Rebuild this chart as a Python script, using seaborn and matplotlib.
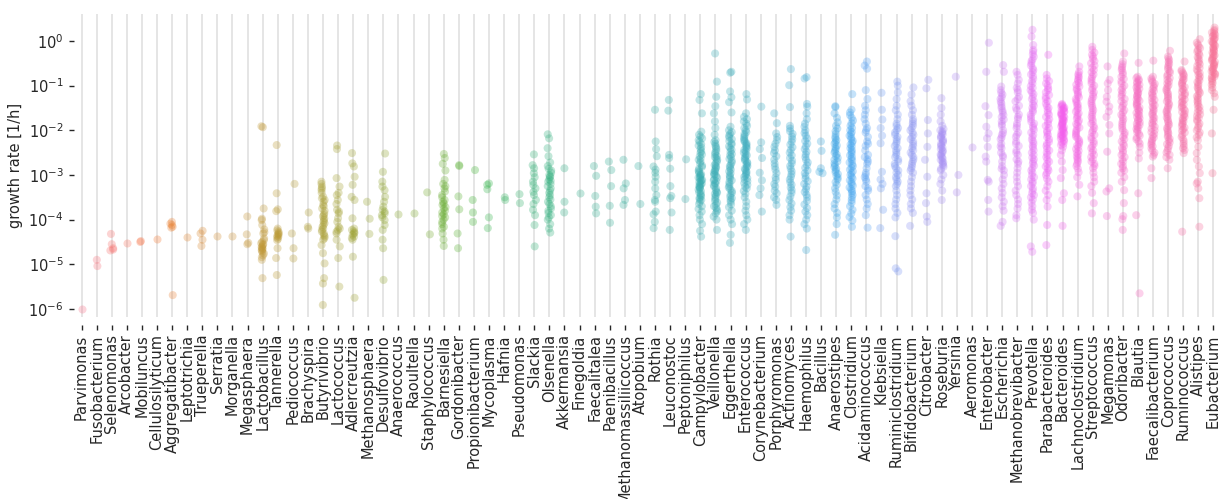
import numpy as np
import pandas as pd
import seaborn as sns
import matplotlib.pyplot as plt
from matplotlib.ticker import FixedLocator, NullLocator

sns.set_style("whitegrid")
plt.rcParams["font.family"] = ["DejaVu Sans"]

genera = [
    "Parvimonas", "Fusobacterium", "Selenomonas", "Arcobacter", "Mobiluncus",
    "Cellulosilyticum", "Aggregatibacter", "Leptotrichia", "Trueperella", "Serratia",
    "Morganella", "Megasphaera", "Lactobacillus", "Tannerella", "Pediococcus",
    "Brachyspira", "Butyrivibrio", "Lactococcus", "Adlercreutzia", "Methanosphaera",
    "Desulfovibrio", "Anaerococcus", "Raoultella", "Staphylococcus", "Barnesiella",
    "Gordonibacter", "Propionibacterium", "Mycoplasma", "Hafnia", "Pseudomonas",
    "Slackia", "Olsenella", "Akkermansia", "Finegoldia", "Faecalitalea",
    "Paenibacillus", "Methanomassiliicoccus", "Atopobium", "Rothia", "Leuconostoc",
    "Peptoniphilus", "Campylobacter", "Veillonella", "Eggerthella", "Enterococcus",
    "Corynebacterium", "Porphyromonas", "Actinomyces", "Haemophilus", "Bacillus",
    "Anaerostipes", "Clostridium", "Acidaminococcus", "Klebsiella", "Ruminiclostridium",
    "Bifidobacterium", "Citrobacter", "Roseburia", "Yersinia", "Aeromonas",
    "Enterobacter", "Escherichia", "Methanobrevibacter", "Prevotella", "Parabacteroides",
    "Bacteroides", "Lachnoclostridium", "Streptococcus", "Megamonas", "Odoribacter",
    "Blautia", "Faecalibacterium", "Coprococcus", "Ruminococcus", "Alistipes",
    "Eubacterium",
]

# log10 of the growth rate [1/h], one list per genus (same order as above)
log10_growth = [
    # Parvimonas .. Megasphaera
    [-6.0],
    [-4.90, -5.04],
    [-4.32, -4.55, -4.64, -4.67, -4.69],
    [-4.53],
    [-4.48, -4.50],
    [-4.44],
    [-4.05, -4.09, -4.12, -4.16, -4.18, -5.69],
    [-4.39],
    [-4.25, -4.31, -4.45, -4.59],
    [-4.37],
    [-4.37],
    [-3.93, -4.33, -4.52, -4.55],
    # Lactobacillus
    [-1.91, -1.93, -3.75, -3.98, -4.01, -4.12, -4.22, -4.28, -4.31, -4.42, -4.46, -4.50,
     -4.53, -4.55, -4.57, -4.60, -4.62, -4.64, -4.66, -4.68, -4.70, -4.73, -4.76, -4.80,
     -4.84, -4.90, -5.31],
    # Tannerella
    [-2.33, -3.41, -3.77, -3.81, -4.20, -4.24, -4.27, -4.30, -4.32, -4.34, -4.36, -4.38,
     -4.40, -4.43, -4.46, -4.64, -4.86, -5.24],
    [-3.20, -4.31, -4.64, -4.87],
    [-3.84, -4.16, -4.20],
    # Butyrivibrio
    [-3.15, -3.20, -3.26, -3.30, -3.34, -3.40, -3.49, -3.52, -3.56, -3.60, -3.67, -3.70,
     -3.75, -3.80, -3.86, -3.90, -3.93, -3.97, -4.01, -4.05, -4.08, -4.12, -4.16, -4.20,
     -4.23, -4.27, -4.31, -4.35, -4.38, -4.42, -4.45, -4.57, -4.75, -4.98, -5.31, -5.43,
     -5.91],
    # Lactococcus
    [-2.34, -2.42, -3.07, -3.26, -3.40, -3.45, -3.56, -3.65, -3.78, -3.82, -3.86, -3.97,
     -4.05, -4.16, -4.20, -4.23, -4.27, -4.31, -4.45, -4.60, -4.86, -5.50],
    # Adlercreutzia
    [-2.51, -2.74, -2.81, -3.04, -3.22, -3.49, -3.56, -3.97, -4.20, -4.23, -4.26, -4.29,
     -4.31, -4.34, -4.38, -4.41, -4.45, -4.83, -5.75],
    [-3.60, -3.98, -4.32],
    # Desulfovibrio
    [-2.52, -2.93, -3.15, -3.26, -3.34, -3.49, -3.60, -3.71, -3.78, -3.82, -3.86, -3.90,
     -3.95, -4.01, -4.12, -4.23, -4.45, -4.64, -5.35],
    [-3.88],
    [-3.86],
    [-3.39, -4.33],
    # Barnesiella
    [-2.53, -2.62, -2.75, -2.90, -3.11, -3.20, -3.25, -3.30, -3.37, -3.45, -3.50, -3.56,
     -3.60, -3.64, -3.67, -3.72, -3.75, -3.80, -3.84, -3.88, -3.92, -3.95, -4.00, -4.05,
     -4.10, -4.16, -4.20, -4.31, -4.45, -4.59],
    [-2.78, -2.80, -3.48, -3.77, -4.31, -4.64],
    [-2.89, -3.56, -3.84, -4.05],
    [-3.19, -3.22, -3.32, -3.95, -4.19],
    [-3.50, -3.56],
    [-3.43, -3.63],
    # Slackia
    [-2.54, -2.78, -2.85, -2.96, -3.05, -3.15, -3.22, -3.30, -3.38, -3.45, -3.56, -3.65,
     -3.78, -3.90, -4.12, -4.60],
    # Olsenella
    [-2.09, -2.18, -2.40, -2.58, -2.72, -2.80, -2.86, -2.90, -2.95, -3.00, -3.03, -3.05,
     -3.10, -3.13, -3.15, -3.20, -3.25, -3.30, -3.35, -3.40, -3.45, -3.50, -3.55, -3.60,
     -3.65, -3.70, -3.75, -3.80, -3.85, -3.90, -3.95, -4.00, -4.10, -4.20, -4.29],
    [-2.85, -3.60, -3.84],
    [-3.41],
    [-2.80, -3.02, -3.47, -3.71, -3.86],
    [-2.70, -2.89, -3.25, -3.69, -4.07],
    [-2.66, -3.19, -3.30, -3.56, -3.67],
    [-2.80, -3.65],
    # Rothia
    [-1.54, -2.25, -2.42, -2.58, -2.81, -2.88, -2.95, -3.04, -3.15, -3.30, -3.45, -3.56,
     -3.60, -3.82, -3.88, -4.05, -4.19],
    # Leuconostoc
    [-1.32, -1.56, -2.55, -2.62, -2.86, -3.25, -3.47, -3.52, -3.84, -4.23],
    [-2.65, -3.54],
    # Campylobacter
    [-1.19, -1.32, -1.62, -2.03, -2.10, -2.14, -2.18, -2.22, -2.26, -2.31, -2.34, -2.38,
     -2.42, -2.47, -2.50, -2.54, -2.58, -2.63, -2.66, -2.70, -2.74, -2.79, -2.82, -2.86,
     -2.90, -2.93, -2.96, -2.98, -3.00, -3.02, -3.05, -3.06, -3.08, -3.11, -3.12, -3.14,
     -3.16, -3.19, -3.20, -3.22, -3.24, -3.27, -3.28, -3.30, -3.33, -3.36, -3.39, -3.42,
     -3.45, -3.48, -3.51, -3.54, -3.56, -3.60, -3.65, -3.70, -3.76, -3.82, -3.90, -4.00,
     -4.10, -4.25, -4.38],
    # Veillonella
    [-0.28, -0.91, -1.25, -1.46, -1.62, -1.80, -1.95, -2.10, -2.22, -2.26, -2.30, -2.35,
     -2.38, -2.42, -2.47, -2.50, -2.54, -2.58, -2.60, -2.63, -2.66, -2.70, -2.74, -2.78,
     -2.80, -2.83, -2.86, -2.90, -2.92, -2.95, -2.98, -3.00, -3.02, -3.06, -3.10, -3.12,
     -3.14, -3.18, -3.20, -3.23, -3.26, -3.30, -3.34, -3.38, -3.40, -3.42, -3.46, -3.50,
     -3.54, -3.58, -3.62, -3.66, -3.70, -3.74, -3.78, -3.82, -3.86, -3.93, -4.00, -4.23],
    # Eggerthella
    [-0.69, -0.71, -1.13, -1.26, -1.37, -1.60, -1.92, -2.00, -2.04, -2.08, -2.12, -2.16,
     -2.20, -2.24, -2.29, -2.32, -2.36, -2.40, -2.44, -2.48, -2.53, -2.56, -2.60, -2.64,
     -2.68, -2.72, -2.77, -2.80, -2.84, -2.88, -2.92, -2.96, -3.01, -3.04, -3.08, -3.12,
     -3.16, -3.20, -3.25, -3.28, -3.32, -3.36, -3.40, -3.44, -3.49, -3.52, -3.56, -3.60,
     -3.66, -3.72, -3.80, -3.90, -4.00, -4.10, -4.34, -4.52],
    # Enterococcus
    [-1.19, -1.31, -1.62, -1.70, -1.75, -1.80, -1.85, -1.90, -1.95, -2.00, -2.04, -2.08,
     -2.12, -2.16, -2.20, -2.23, -2.26, -2.29, -2.32, -2.35, -2.38, -2.41, -2.44, -2.47,
     -2.50, -2.53, -2.56, -2.59, -2.62, -2.65, -2.68, -2.71, -2.74, -2.77, -2.80, -2.83,
     -2.86, -2.89, -2.92, -2.95, -2.98, -3.01, -3.04, -3.07, -3.10, -3.14, -3.18, -3.22,
     -3.26, -3.30, -3.36, -3.42, -3.50, -3.60, -3.70, -3.80, -3.90, -4.00, -4.10, -4.23],
    [-1.47, -2.27, -2.42, -2.62, -2.95, -3.12, -3.30, -3.45, -3.82],
    # Porphyromonas
    [-1.62, -1.84, -2.07, -2.15, -2.22, -2.30, -2.37, -2.45, -2.51, -2.58, -2.66, -2.74,
     -2.81, -2.88, -2.96, -3.05, -3.11, -3.20, -3.26, -3.35, -3.41, -3.50, -3.56, -3.67],
    # Actinomyces
    [-0.63, -0.99, -1.48, -1.90, -1.96, -2.02, -2.08, -2.14, -2.20, -2.26, -2.32, -2.38,
     -2.44, -2.50, -2.56, -2.62, -2.68, -2.74, -2.80, -2.86, -2.92, -2.98, -3.04, -3.10,
     -3.16, -3.22, -3.28, -3.34, -3.40, -3.48, -3.56, -3.64, -3.72, -3.80, -3.90, -4.00,
     -4.38],
    # Haemophilus
    [-0.81, -0.84, -1.41, -1.47, -1.62, -1.75, -1.85, -1.92, -2.00, -2.06, -2.12, -2.18,
     -2.24, -2.30, -2.36, -2.42, -2.48, -2.54, -2.60, -2.66, -2.72, -2.78, -2.84, -2.90,
     -2.96, -3.02, -3.08, -3.14, -3.20, -3.26, -3.32, -3.38, -3.44, -3.50, -3.58, -3.66,
     -3.74, -3.82, -3.90, -4.00, -4.10, -4.20, -4.68],
    [-2.25, -2.46, -2.85, -2.93, -2.96],
    # Anaerostipes
    [-1.46, -1.48, -1.62, -1.72, -1.82, -1.90, -1.96, -2.02, -2.08, -2.14, -2.18, -2.22,
     -2.26, -2.30, -2.34, -2.38, -2.42, -2.46, -2.50, -2.54, -2.58, -2.62, -2.66, -2.70,
     -2.74, -2.78, -2.82, -2.86, -2.90, -2.94, -2.98, -3.02, -3.06, -3.10, -3.16, -3.22,
     -3.30, -3.38, -3.46, -3.55, -3.65, -3.75, -3.85, -3.95, -4.10, -4.34],
    # Clostridium
    [-1.19, -1.54, -1.60, -1.66, -1.72, -1.78, -1.84, -1.90, -1.95, -2.00, -2.04, -2.08,
     -2.12, -2.16, -2.20, -2.24, -2.28, -2.32, -2.36, -2.40, -2.44, -2.48, -2.52, -2.56,
     -2.60, -2.64, -2.68, -2.72, -2.76, -2.80, -2.84, -2.88, -2.92, -2.96, -3.00, -3.04,
     -3.08, -3.12, -3.16, -3.20, -3.24, -3.28, -3.32, -3.36, -3.40, -3.45, -3.50, -3.56,
     -3.62, -3.70, -3.78, -3.86, -3.94, -4.02, -4.16],
    # Acidaminococcus
    [-0.46, -0.55, -0.62, -1.10, -1.30, -1.45, -1.55, -1.65, -1.75, -1.85, -1.95, -2.00,
     -2.05, -2.15, -2.25, -2.30, -2.35, -2.45, -2.55, -2.60, -2.65, -2.70, -2.75, -2.85,
     -2.95, -3.00, -3.05, -3.10, -3.15, -3.25, -3.30, -3.35, -3.45, -3.55, -3.65, -3.75,
     -3.90, -4.18],
    # Klebsiella
    [-1.16, -1.54, -1.76, -1.95, -2.12, -2.29, -2.93, -3.10, -3.20, -3.30, -3.78, -4.19],
    # Ruminiclostridium
    [-0.91, -1.00, -1.15, -1.30, -1.45, -1.55, -1.65, -1.75, -1.85, -1.90, -1.95, -2.00,
     -2.05, -2.10, -2.15, -2.20, -2.25, -2.30, -2.35, -2.40, -2.45, -2.50, -2.55, -2.60,
     -2.65, -2.70, -2.75, -2.80, -2.85, -2.90, -2.95, -3.00, -3.05, -3.10, -3.15, -3.20,
     -3.25, -3.35, -3.45, -3.55, -3.65, -3.75, -3.85, -3.95, -4.37, -5.09, -5.16],
    # Bifidobacterium
    [-1.04, -1.20, -1.35, -1.45, -1.55, -1.65, -1.75, -1.80, -1.85, -1.90, -1.95, -2.00,
     -2.05, -2.10, -2.15, -2.20, -2.25, -2.30, -2.35, -2.40, -2.45, -2.50, -2.55, -2.60,
     -2.65, -2.70, -2.75, -2.80, -2.85, -2.90, -2.95, -3.05, -3.15, -3.25, -3.35, -3.45,
     -3.55, -3.65, -3.75, -3.85, -4.14],
    [-0.87, -1.06, -1.77, -2.07, -2.37, -2.66, -3.04, -3.41, -3.63, -3.93, -4.05],
    # Roseburia
    [-1.28, -1.50, -1.65, -1.80, -1.90, -1.97, -2.00, -2.03, -2.06, -2.09, -2.12, -2.15,
     -2.18, -2.21, -2.24, -2.27, -2.30, -2.33, -2.36, -2.39, -2.42, -2.45, -2.48, -2.51,
     -2.54, -2.57, -2.60, -2.63, -2.66, -2.69, -2.72, -2.75, -2.78, -2.82, -2.86, -2.90,
     -3.00, -3.10, -3.20, -3.35, -3.56],
    [-0.80, -3.00, -3.39],
    [-2.37],
    # Enterobacter
    [-0.04, -0.69, -1.46, -1.66, -1.92, -2.07, -2.18, -2.37, -2.59, -2.70, -3.11, -3.15,
     -3.56, -3.82],
    # Escherichia
    [-0.54, -0.69, -1.02, -1.10, -1.16, -1.20, -1.26, -1.30, -1.36, -1.40, -1.46, -1.50,
     -1.56, -1.60, -1.66, -1.70, -1.76, -1.80, -1.86, -1.90, -2.00, -2.06, -2.10, -2.16,
     -2.20, -2.30, -2.36, -2.40, -2.50, -2.56, -2.60, -2.70, -2.80, -2.86, -2.90, -3.00,
     -3.10, -3.20, -3.30, -3.40, -3.50, -3.60, -3.70, -3.80, -4.05, -4.14],
    # Methanobrevibacter
    [-0.69, -0.76, -0.87, -0.95, -1.05, -1.10, -1.15, -1.25, -1.30, -1.35, -1.45, -1.50,
     -1.55, -1.65, -1.70, -1.75, -1.85, -1.90, -1.95, -2.05, -2.10, -2.15, -2.25, -2.30,
     -2.35, -2.45, -2.50, -2.55, -2.65, -2.70, -2.75, -2.85, -2.95, -3.05, -3.15, -3.25,
     -3.35, -3.45, -3.55, -3.65, -3.75, -3.90, -3.97],
    # Prevotella
    [0.25, 0.10, -0.09, -0.20, -0.24, -0.30, -0.35, -0.41, -0.45, -0.50, -0.55, -0.61,
     -0.65, -0.70, -0.75, -0.79, -0.85, -0.90, -0.95, -1.01, -1.05, -1.10, -1.15, -1.19,
     -1.25, -1.30, -1.35, -1.41, -1.45, -1.50, -1.55, -1.59, -1.65, -1.70, -1.75, -1.81,
     -1.85, -1.90, -1.95, -1.99, -2.05, -2.10, -2.15, -2.21, -2.25, -2.30, -2.35, -2.39,
     -2.45, -2.50, -2.55, -2.61, -2.65, -2.70, -2.75, -2.79, -2.85, -2.90, -2.95, -3.01,
     -3.05, -3.10, -3.15, -3.19, -3.25, -3.30, -3.35, -3.41, -3.45, -3.50, -3.55, -3.62,
     -3.70, -3.78, -3.85, -4.00, -4.60, -4.72],
    # Parabacteroides
    [-0.31, -0.76, -0.84, -0.90, -0.95, -1.00, -1.06, -1.10, -1.15, -1.21, -1.25, -1.30,
     -1.35, -1.40, -1.46, -1.50, -1.55, -1.61, -1.65, -1.70, -1.75, -1.80, -1.86, -1.90,
     -1.95, -2.01, -2.05, -2.10, -2.15, -2.20, -2.26, -2.30, -2.35, -2.41, -2.45, -2.50,
     -2.55, -2.60, -2.66, -2.70, -2.75, -2.81, -2.85, -2.90, -2.95, -3.00, -3.08, -3.15,
     -3.25, -3.35, -3.45, -3.56, -3.71, -4.12, -4.57],
    # Bacteroides
    [-1.41, -1.43, -1.45, -1.47, -1.49, -1.51, -1.53, -1.55, -1.57, -1.59, -1.61, -1.63,
     -1.65, -1.67, -1.69, -1.71, -1.73, -1.75, -1.77, -1.79, -1.81, -1.83, -1.85, -1.87,
     -1.89, -1.91, -1.93, -1.95, -1.97, -1.99, -2.01, -2.03, -2.05, -2.07, -2.09, -2.11,
     -2.13, -2.15, -2.17, -2.19, -2.21, -2.24, -2.27, -2.30, -2.33, -2.37, -2.45, -2.55,
     -2.70, -2.89, -3.07, -3.41, -3.56, -4.14],
    # Lachnoclostridium
    [-0.57, -0.69, -0.74, -0.78, -0.82, -0.86, -0.90, -0.94, -0.98, -1.02, -1.06, -1.10,
     -1.14, -1.18, -1.22, -1.26, -1.30, -1.34, -1.38, -1.42, -1.46, -1.50, -1.54, -1.58,
     -1.62, -1.66, -1.70, -1.74, -1.78, -1.82, -1.86, -1.90, -1.94, -1.98, -2.02, -2.06,
     -2.10, -2.14, -2.18, -2.22, -2.26, -2.30, -2.34, -2.38, -2.42, -2.46, -2.50, -2.54,
     -2.58, -2.62, -2.66, -2.70, -2.75, -2.80, -2.86, -2.94, -3.05, -3.22, -3.48],
    # Streptococcus
    [-0.13, -0.20, -0.26, -0.31, -0.35, -0.40, -0.45, -0.50, -0.55, -0.60, -0.65, -0.70,
     -0.75, -0.80, -0.85, -0.90, -0.95, -1.00, -1.05, -1.10, -1.15, -1.20, -1.25, -1.30,
     -1.35, -1.40, -1.45, -1.50, -1.55, -1.60, -1.65, -1.70, -1.75, -1.80, -1.85, -1.90,
     -1.95, -2.00, -2.05, -2.10, -2.15, -2.20, -2.25, -2.30, -2.35, -2.40, -2.45, -2.50,
     -2.55, -2.60, -2.65, -2.70, -2.75, -2.80, -2.85, -2.95, -3.05, -3.15, -3.25, -3.40,
     -3.63, -3.86],
    # Megamonas
    [-0.57, -0.87, -0.95, -1.10, -1.25, -1.36, -1.47, -1.58, -1.70, -1.88, -2.07, -2.48,
     -3.30, -3.37, -3.92],
    # Odoribacter
    [-0.28, -0.46, -0.52, -0.57, -0.61, -0.65, -0.70, -0.75, -0.80, -0.85, -0.90, -0.95,
     -1.00, -1.05, -1.10, -1.15, -1.20, -1.25, -1.30, -1.35, -1.40, -1.45, -1.50, -1.55,
     -1.60, -1.65, -1.70, -1.75, -1.80, -1.85, -1.90, -1.95, -2.00, -2.05, -2.10, -2.15,
     -2.20, -2.25, -2.30, -2.35, -2.40, -2.45, -2.50, -2.55, -2.60, -2.65, -2.70, -2.75,
     -2.80, -2.85, -2.90, -2.95, -3.05, -3.15, -3.34, -3.63, -3.92, -3.99, -4.23],
    # Blautia
    [-0.49, -0.80, -0.83, -0.86, -0.89, -0.92, -0.95, -0.98, -1.01, -1.04, -1.07, -1.10,
     -1.13, -1.16, -1.19, -1.22, -1.25, -1.28, -1.31, -1.34, -1.37, -1.40, -1.43, -1.46,
     -1.49, -1.52, -1.55, -1.58, -1.61, -1.64, -1.67, -1.70, -1.73, -1.76, -1.79, -1.82,
     -1.85, -1.88, -1.91, -1.94, -1.97, -2.00, -2.04, -2.08, -2.12, -2.16, -2.20, -2.25,
     -2.30, -2.37, -2.50, -2.63, -3.41, -3.90, -5.65],
    # Faecalibacterium
    [-0.44, -0.80, -0.84, -0.88, -0.92, -0.96, -1.00, -1.04, -1.08, -1.12, -1.16, -1.20,
     -1.24, -1.28, -1.32, -1.36, -1.40, -1.44, -1.48, -1.52, -1.56, -1.60, -1.64, -1.68,
     -1.72, -1.76, -1.80, -1.84, -1.88, -1.92, -1.96, -2.00, -2.04, -2.08, -2.12, -2.16,
     -2.20, -2.24, -2.28, -2.32, -2.36, -2.40, -2.45, -2.50, -2.55, -2.59, -2.85, -3.07],
    # Coprococcus
    [-0.22, -0.35, -0.39, -0.43, -0.47, -0.51, -0.55, -0.59, -0.63, -0.67, -0.71, -0.75,
     -0.79, -0.83, -0.87, -0.91, -0.95, -0.99, -1.03, -1.07, -1.11, -1.15, -1.19, -1.23,
     -1.27, -1.31, -1.35, -1.39, -1.43, -1.47, -1.51, -1.55, -1.59, -1.63, -1.67, -1.71,
     -1.75, -1.79, -1.83, -1.87, -1.91, -1.95, -1.99, -2.03, -2.07, -2.11, -2.15, -2.19,
     -2.23, -2.27, -2.31, -2.35, -2.40, -2.45, -2.50, -2.55, -2.60, -2.66, -2.85],
    # Ruminococcus
    [-0.46, -0.65, -0.68, -0.72, -0.75, -0.79, -0.82, -0.86, -0.89, -0.93, -0.96, -1.00,
     -1.03, -1.07, -1.10, -1.14, -1.17, -1.21, -1.24, -1.28, -1.31, -1.35, -1.38, -1.42,
     -1.45, -1.49, -1.52, -1.56, -1.59, -1.63, -1.66, -1.70, -1.73, -1.77, -1.80, -1.84,
     -1.87, -1.91, -1.94, -1.98, -2.01, -2.05, -2.10, -2.15, -2.20, -2.25, -2.30, -2.35,
     -2.40, -2.44, -2.51, -4.27],
    # Alistipes
    [0.04, -0.04, -0.08, -0.12, -0.16, -0.20, -0.24, -0.28, -0.32, -0.36, -0.40, -0.44,
     -0.48, -0.52, -0.56, -0.60, -0.64, -0.68, -0.72, -0.76, -0.80, -0.84, -0.88, -0.92,
     -0.96, -1.00, -1.04, -1.08, -1.12, -1.16, -1.20, -1.24, -1.28, -1.32, -1.36, -1.40,
     -1.44, -1.48, -1.52, -1.56, -1.60, -1.64, -1.68, -1.72, -1.76, -1.80, -1.85, -1.90,
     -1.95, -2.00, -2.05, -2.10, -2.16, -2.22, -2.37, -2.51, -2.66, -2.81, -2.96, -3.15,
     -3.19, -3.30, -3.52, -4.16],
    # Eubacterium
    [0.30, 0.25, 0.22, 0.19, 0.17, 0.14, 0.12, 0.10, 0.07, 0.04, 0.02, -0.01,
     -0.03, -0.06, -0.08, -0.11, -0.14, -0.16, -0.19, -0.21, -0.24, -0.26, -0.29, -0.32,
     -0.34, -0.37, -0.39, -0.42, -0.44, -0.47, -0.50, -0.52, -0.55, -0.57, -0.60, -0.62,
     -0.65, -0.68, -0.70, -0.73, -0.75, -0.78, -0.80, -0.83, -0.86, -0.90, -0.94, -0.98,
     -1.04, -1.10, -1.17, -1.25, -1.54, -2.07, -2.96],
]

ytick_values = [1e-6, 1e-5, 1e-4, 1e-3, 1e-2, 1e-1, 1e0]

records = [(g, 10.0 ** v) for g, vals in zip(genera, log10_growth) for v in vals]
df = pd.DataFrame(records, columns=["genus", "growth rate [1/h]"])

W, H = 1220, 499
fig = plt.figure(figsize=(W / 100, H / 100), dpi=100)
ax = fig.add_axes([74 / W, 1 - 317 / H, (1221 - 74) / W, (317 - 14) / H])
ax.set_yscale("log")

np.random.seed(3)
sns.stripplot(
    data=df, x="genus", y="growth rate [1/h]", hue="genus",
    order=genera, hue_order=genera, palette=sns.husl_palette(len(genera)),
    alpha=0.3, size=5.8, linewidth=0, jitter=0.12, legend=False, ax=ax,
)

ax.set_ylim(10 ** -6.18, 10 ** 0.604)
ax.yaxis.set_major_locator(FixedLocator(ytick_values))
ax.yaxis.set_minor_locator(NullLocator())
ax.set_xlabel("")
ax.set_ylabel("growth rate [1/h]", fontsize=10.5, color=".15")

ax.yaxis.grid(False)
ax.xaxis.grid(True, color=".87", linewidth=1.1)
for side in ["top", "right", "left", "bottom"]:
    ax.spines[side].set_visible(False)
ax.spines["bottom"].set_position(("outward", 6))

ax.tick_params(axis="both", which="major", direction="out", length=3.5, width=1.0,
               color=".15", labelcolor=".15", labelsize=10.5, bottom=True, left=True)
ax.tick_params(axis="x", labelrotation=90, pad=3)
ax.tick_params(axis="y", pad=4)

fig.savefig("out.png", dpi=100)
